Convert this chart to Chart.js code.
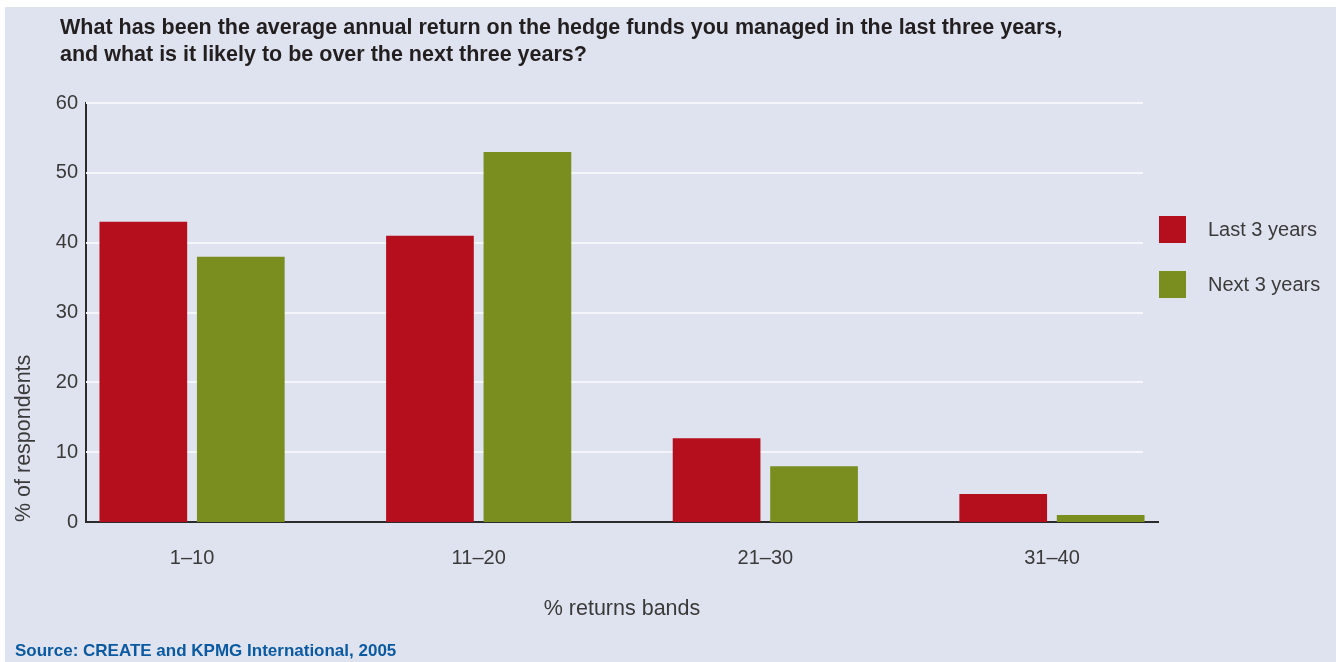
<!DOCTYPE html>
<html>
<head>
<meta charset="utf-8">
<script src="https://cdn.jsdelivr.net/npm/chart.js@4"></script>
<style>
  html, body { margin: 0; padding: 0; background: #ffffff; }
  body { width: 1336px; height: 662px; position: relative; overflow: hidden; }
  #panel { position: absolute; left: 5px; top: 7px; right: 0; bottom: 0; background: #dfe3f0; }
  #wrap { position: absolute; left: 0; top: 0; width: 1336px; height: 662px; }
  #title {
    position: absolute; left: 60px; top: 14px;
    font-family: "Liberation Sans", Arial, sans-serif;
    font-weight: bold; font-size: 21.5px; line-height: 27px; color: #231f20;
  }
  #source {
    position: absolute; left: 15px; top: 641px;
    font-family: "Liberation Sans", Arial, sans-serif;
    font-weight: bold; font-size: 17px; line-height: 20px; color: #0b5aa0;
  }
</style>
</head>
<body>
<div id="panel"></div>
<div id="wrap"><canvas id="chart" width="1336" height="662"></canvas></div>
<div id="title">What has been the average annual return on the hedge funds you managed in the last three years,<br>and what is it likely to be over the next three years?</div>
<div id="source">Source: CREATE and KPMG International, 2005</div>
<script>
// Return bands (x categories) and share of respondents per band
const bands = ["1–10", "11–20", "21–30", "31–40"];
const lastThreeYears = [43, 41, 12, 4];
const nextThreeYears = [38, 53, 8, 1];
const seriesNames = ["Last 3 years", "Next 3 years"];
const seriesColors = ["#b50e1c", "#798e1f"];
const yTicks = [0, 10, 20, 30, 40, 50, 60];

const tickFont = { family: "'Liberation Sans', Arial, sans-serif", size: 20 };
const axisTitleFont = { family: "'Liberation Sans', Arial, sans-serif", size: 21.5 };
const textColor = "#3a3a3a";

// White horizontal guide lines, stopping a little short of the axis end
const gridPlugin = {
  id: "shortGrid",
  beforeDatasetsDraw(chart) {
    const { ctx, chartArea, scales } = chart;
    ctx.save();
    ctx.strokeStyle = "#f4f6fb";
    ctx.lineWidth = 2;
    yTicks.forEach(v => {
      if (v === 0) return;
      const y = Math.round(scales.y.getPixelForValue(v));
      ctx.beginPath();
      ctx.moveTo(chartArea.left, y);
      ctx.lineTo(chartArea.right - 15, y);
      ctx.stroke();
    });
    ctx.restore();
  }
};

// Legend drawn to the right of the plot, square swatches with labels
const sideLegend = {
  id: "sideLegend",
  afterDraw(chart) {
    const { ctx, chartArea } = chart;
    ctx.save();
    ctx.font = "20px 'Liberation Sans', Arial, sans-serif";
    ctx.textBaseline = "middle";
    chart.data.datasets.forEach((ds, i) => {
      const x = chartArea.right + 1;
      const y = 216 + i * 55;
      ctx.fillStyle = ds.backgroundColor;
      ctx.fillRect(x, y, 27, 27);
      ctx.fillStyle = textColor;
      ctx.fillText(ds.label, x + 49, y + 14);
    });
    ctx.restore();
  }
};

new Chart(document.getElementById("chart"), {
  type: "bar",
  data: {
    datasets: [
      { label: seriesNames[0], data: lastThreeYears.map((v, i) => ({ x: i, y: v })), backgroundColor: seriesColors[0] },
      { label: seriesNames[1], data: nextThreeYears.map((v, i) => ({ x: i, y: v })), backgroundColor: seriesColors[1] }
    ]
  },
  options: {
    responsive: false,
    animation: false,
    layout: { padding: { top: 103, right: 178, left: 0, bottom: 0 } },
    datasets: { bar: { categoryPercentage: 0.68, barPercentage: 0.9 } },
    plugins: { legend: { display: false }, tooltip: { enabled: false } },
    scales: {
      x: {
        type: "linear",
        offset: false,
        min: -0.37,
        max: 3.37,
        afterBuildTicks(scale) { scale.ticks = bands.map((_, i) => ({ value: i })); },
        afterFit(scale) { scale.height = 140; },
        ticks: {
          callback: v => bands[v],
          font: tickFont, color: textColor, padding: 24, autoSkip: false, maxRotation: 0
        },
        grid: { display: false, drawTicks: false, offset: false },
        border: { display: true, color: "#2b2b2b", width: 2 },
        title: {
          display: true, text: "% returns bands",
          font: axisTitleFont, color: textColor,
          padding: { top: 0, bottom: 40 }
        }
      },
      y: {
        min: 0,
        max: 60,
        afterBuildTicks(scale) { scale.ticks = yTicks.map(v => ({ value: v })); },
        afterFit(scale) { scale.width = 86; },
        ticks: { font: tickFont, color: textColor, padding: 8 },
        grid: { display: false, drawTicks: false },
        border: { display: true, color: "#2b2b2b", width: 2 },
        title: {
          display: true, text: "% of respondents", align: "start",
          font: axisTitleFont, color: textColor,
          padding: { top: 11, bottom: 0 }
        }
      }
    }
  },
  plugins: [gridPlugin, sideLegend]
});
</script>
</body>
</html>
